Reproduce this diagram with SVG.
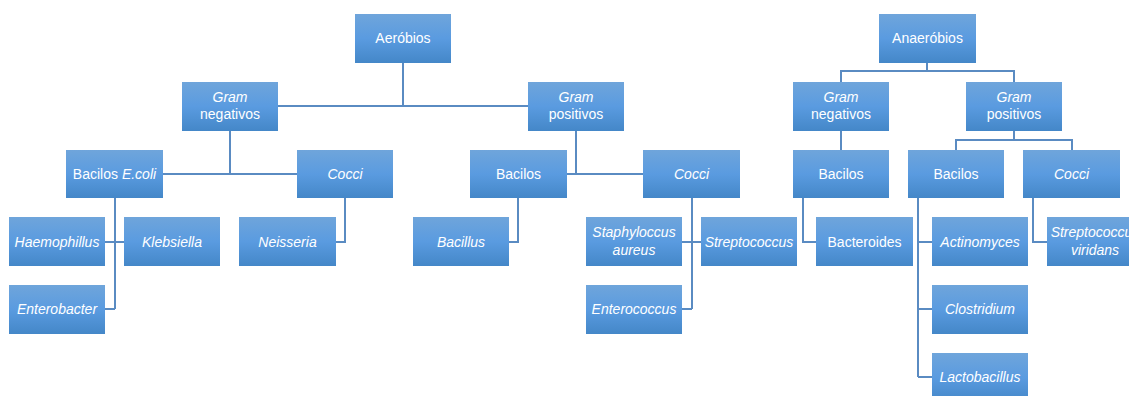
<svg xmlns="http://www.w3.org/2000/svg" width="1129" height="396" viewBox="0 0 1129 396">
<defs>
<linearGradient id="g" x1="0" y1="0" x2="0" y2="1">
<stop offset="0" stop-color="#6fa5db"/>
<stop offset="0.5" stop-color="#5a9be0"/>
<stop offset="1" stop-color="#4487c8"/>
</linearGradient>
<style>
.b{fill:url(#g)}
text{font-family:"Liberation Sans",Arial,sans-serif;font-size:14px;fill:#ffffff;text-anchor:middle}
.i{font-style:italic}
.c{fill:none;stroke:#5a8bc2;stroke-width:2}
</style>
</defs>
<rect width="1129" height="396" fill="#ffffff"/>
<g id="connectors" class="c">
<path d="M403,63V106M278,106H528"/>
<path d="M230,131V174M163,174H297"/>
<path d="M576,131V174M567,174H643"/>
<path d="M115,198V309M105,242H124M105,309H115"/>
<path d="M345,198V242H336"/>
<path d="M518,198V242H509"/>
<path d="M692,198V309M682,242H701M682,309H692"/>
<path d="M927,63V71M841,82V71H1014V82"/>
<path d="M841,131V150"/>
<path d="M1014,131V140M956,150V140H1072V150"/>
<path d="M803,198V242H816"/>
<path d="M918,198V377M918,242H932M918,309H932M918,377H932"/>
<path d="M1033,198V242H1047"/>
</g>
<g id="aerobios"><rect class="b" x="355" y="14" width="96" height="49"/><text x="403" y="43">Aeróbios</text></g>
<g id="aer-gram-neg"><rect class="b" x="182" y="82" width="96" height="49"/><text x="230" y="102" class="i">Gram</text><text x="230" y="119">negativos</text></g>
<g id="aer-gram-pos"><rect class="b" x="528" y="82" width="96" height="49"/><text x="576" y="102" class="i">Gram</text><text x="576" y="119">positivos</text></g>
<g id="bacilos-ecoli"><rect class="b" x="66" y="150" width="97" height="48"/><text x="114.5" y="179">Bacilos <tspan class="i">E.coli</tspan></text></g>
<g id="aer-neg-cocci"><rect class="b" x="297" y="150" width="96" height="48"/><text x="345" y="179" class="i">Cocci</text></g>
<g id="aer-pos-bacilos"><rect class="b" x="470" y="150" width="97" height="48"/><text x="518.5" y="179">Bacilos</text></g>
<g id="aer-pos-cocci"><rect class="b" x="643" y="150" width="97" height="48"/><text x="691.5" y="179" class="i">Cocci</text></g>
<g id="haemophillus"><rect class="b" x="9" y="217" width="96" height="49"/><text x="57" y="247" class="i">Haemophillus</text></g>
<g id="klebsiella"><rect class="b" x="124" y="217" width="96" height="49"/><text x="172" y="247" class="i">Klebsiella</text></g>
<g id="enterobacter"><rect class="b" x="9" y="285" width="96" height="49"/><text x="57" y="314" class="i">Enterobacter</text></g>
<g id="neisseria"><rect class="b" x="239" y="217" width="97" height="49"/><text x="287.5" y="247" class="i">Neisseria</text></g>
<g id="bacillus"><rect class="b" x="413" y="217" width="96" height="49"/><text x="461" y="247" class="i">Bacillus</text></g>
<g id="staphyloccus"><rect class="b" x="586" y="217" width="96" height="49"/><text x="634" y="237" class="i">Staphyloccus</text><text x="634" y="255" class="i">aureus</text></g>
<g id="streptococcus"><rect class="b" x="701" y="217" width="96" height="49"/><text x="749" y="247" class="i">Streptococcus</text></g>
<g id="enterococcus"><rect class="b" x="586" y="285" width="96" height="49"/><text x="634" y="314" class="i">Enterococcus</text></g>
<g id="anaerobios"><rect class="b" x="879" y="14" width="97" height="49"/><text x="927.5" y="43">Anaeróbios</text></g>
<g id="an-gram-neg"><rect class="b" x="793" y="82" width="96" height="49"/><text x="841" y="102" class="i">Gram</text><text x="841" y="119">negativos</text></g>
<g id="an-gram-pos"><rect class="b" x="966" y="82" width="96" height="49"/><text x="1014" y="102" class="i">Gram</text><text x="1014" y="119">positivos</text></g>
<g id="an-neg-bacilos"><rect class="b" x="793" y="150" width="96" height="48"/><text x="841" y="179">Bacilos</text></g>
<g id="an-pos-bacilos"><rect class="b" x="908" y="150" width="96" height="48"/><text x="956" y="179">Bacilos</text></g>
<g id="an-pos-cocci"><rect class="b" x="1023" y="150" width="97" height="48"/><text x="1071.5" y="179" class="i">Cocci</text></g>
<g id="bacteroides"><rect class="b" x="816" y="217" width="97" height="49"/><text x="864.5" y="247">Bacteroides</text></g>
<g id="actinomyces"><rect class="b" x="932" y="217" width="96" height="49"/><text x="980" y="247" class="i">Actinomyces</text></g>
<g id="clostridium"><rect class="b" x="932" y="285" width="96" height="49"/><text x="980" y="314" class="i">Clostridium</text></g>
<g id="lactobacillus"><rect class="b" x="932" y="353" width="96" height="49"/><text x="980" y="382" class="i">Lactobacillus</text></g>
<g id="strep-viridans"><rect class="b" x="1047" y="217" width="96" height="49"/><text x="1095" y="237" class="i">Streptococcus</text><text x="1095" y="255" class="i">viridans</text></g>
</svg>
